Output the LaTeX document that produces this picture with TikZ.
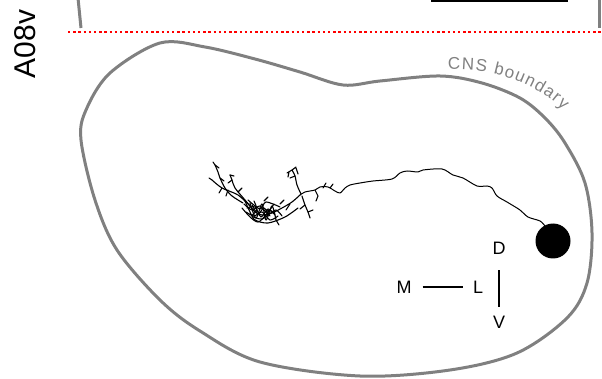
\documentclass[tikz,border=0pt]{standalone}
\usepackage{fontspec}
\setmainfont{Liberation Sans}
\usetikzlibrary{decorations.text}
\definecolor{cnsgray}{RGB}{128,128,128}
\tikzset{
  outline/.style={draw=cnsgray, line width=3pt},
  neurite/.style={line width=1.1pt, line cap=round, line join=round},
  axis label/.style={font=\fontsize{18}{18}\selectfont, inner sep=1pt},
  axis bar/.style={line width=1.7pt},
}

\begin{document}
\begin{tikzpicture}[x=1pt,y=-1pt]
	\useasboundingbox (0,0) rectangle (602,379);
	% panel name
	\node[rotate=90, font=\fontsize{30}{30}\selectfont] (title) at (25,44) {A08v};
	% bottom edge of the panel above
	\draw[outline] (78,-2) -- (81,28);
	\draw[outline] (599,-2) -- (599,28);
	\draw[line width=1.6pt] (431,1) -- (568,1);
	\draw[red, line width=2.3pt, dash pattern=on 2.3pt off 2.9pt] (68,32) -- (602,32);
	% CNS outline
	\draw[outline] plot[smooth cycle, tension=0.55] coordinates {(160,43) (205,47) (255,59) (300,72) (343,85) (380,81) (440,76) (482,83) (520,98) (545,118) (565,143) (585,183) (592,233) (587,283) (567,318) (517,353) (450,370) (360,376) (260,362) (200,331) (160,300) (117,250) (95,200) (81,140) (86,110) (110,73)};
	\path[decorate, decoration={text along path, text color=cnsgray, text align={fit to path},
		text={|\fontsize{17}{17}\selectfont|CNS boundary}}]
		(448,70) .. controls (490,67) and (535,82) .. (563,110);
	% soma and axon
	\node[circle, fill, minimum size=35pt, inner sep=0pt] (soma) at (553,241) {};
	\draw[neurite, line width=1pt] plot[smooth] coordinates {(545,226) (540,221) (528,217) (520,210) (507,202) (497,196) (492,188) (487,186) (477,186) (463,178) (453,175) (442,169) (423,170) (418,172) (407,171) (400,173) (392,179) (373,181) (360,183) (350,185) (345,188) (340,193) (335,191) (328,187) (320,187) (315,190) (305,192) (300,195)};
	% dendrites
	\draw[neurite] plot[smooth] coordinates {(300,195) (292,202) (282,208) (272,213) (262,215) (255,212)};
	\draw[neurite] plot[smooth] coordinates {(301,194) (297,185) (295,176) (292,170)};
	\draw[neurite] (292,170) -- (287,173) (292,170) -- (296,167) (295,176) -- (290,178) (289,172) -- (288,177) (296,168) -- (298,174);
	\draw[neurite] plot[smooth] coordinates {(302,196) (305,205) (308,212) (310,218)};
	\draw[neurite] (323,188) -- (326,183) (315,190) -- (318,196) -- (316,201) (330,188) -- (333,184) (305,205) -- (300,209) (308,212) -- (313,210);
	\draw[neurite] plot[smooth] coordinates {(245,201) (250,212) (255,220) (268,223) (285,217) (298,208)};
	\draw[neurite] plot[smooth] coordinates {(255,212) (245,200) (235,188) (232,180) (230,175)};
	\draw[neurite] (230,175) -- (234,176) (232,180) -- (228,183) (238,192) -- (242,188);
	\draw[neurite] plot[smooth] coordinates {(250,206) (238,195) (222,188) (212,180)};
	\draw[neurite] (212,180) -- (209,178) (222,188) -- (219,193) (228,190) -- (226,196);
	\draw[neurite] plot[smooth] coordinates {(243,203) (232,196) (225,188) (220,178) (218,172) (215,165)};
	\draw[neurite] (215,165) -- (219,168) (215,165) -- (213,162) (220,178) -- (224,181);
	% tangle of fine branches
	\draw[neurite] plot[smooth] coordinates {(244,204) (252,210) (260,206) (268,214) (276,210) (282,216)};
	\draw[neurite] plot[smooth] coordinates {(246,212) (254,216) (262,212) (270,220) (278,216)};
	\draw[neurite] plot[smooth] coordinates {(250,203) (256,218) (262,204) (266,220) (272,206) (276,220)};
	\draw[neurite] plot[smooth] coordinates {(242,208) (258,222) (274,204)};
	\draw[neurite] plot[smooth] coordinates {(248,200) (260,209) (266,202) (280,207)};
	\draw[neurite] plot[smooth] coordinates {(252,205) (258,214) (264,208) (270,216) (266,210) (274,212)};
	\draw[neurite] plot[smooth] coordinates {(247,208) (255,207) (261,217) (268,209) (275,215)};
	\draw[neurite] plot[smooth] coordinates {(254,201) (257,210) (252,216) (262,219) (270,213)};
	\draw[neurite] (264,201) -- (268,197) (280,204) -- (284,200) (276,220) -- (279,225) (286,210) -- (290,204);
	% orientation
	\node[axis label] (D) at (499,248) {D};
	\node[axis label] (V) at (499,322) {V};
	\node[axis label] (M) at (404,287) {M};
	\node[axis label] (L) at (478,287) {L};
	\draw[axis bar, shorten <=10pt, shorten >=9pt] (M) -- (L);
	\draw[axis bar, shorten <=15pt, shorten >=8pt] (D) -- (V);
\end{tikzpicture}
\end{document}
